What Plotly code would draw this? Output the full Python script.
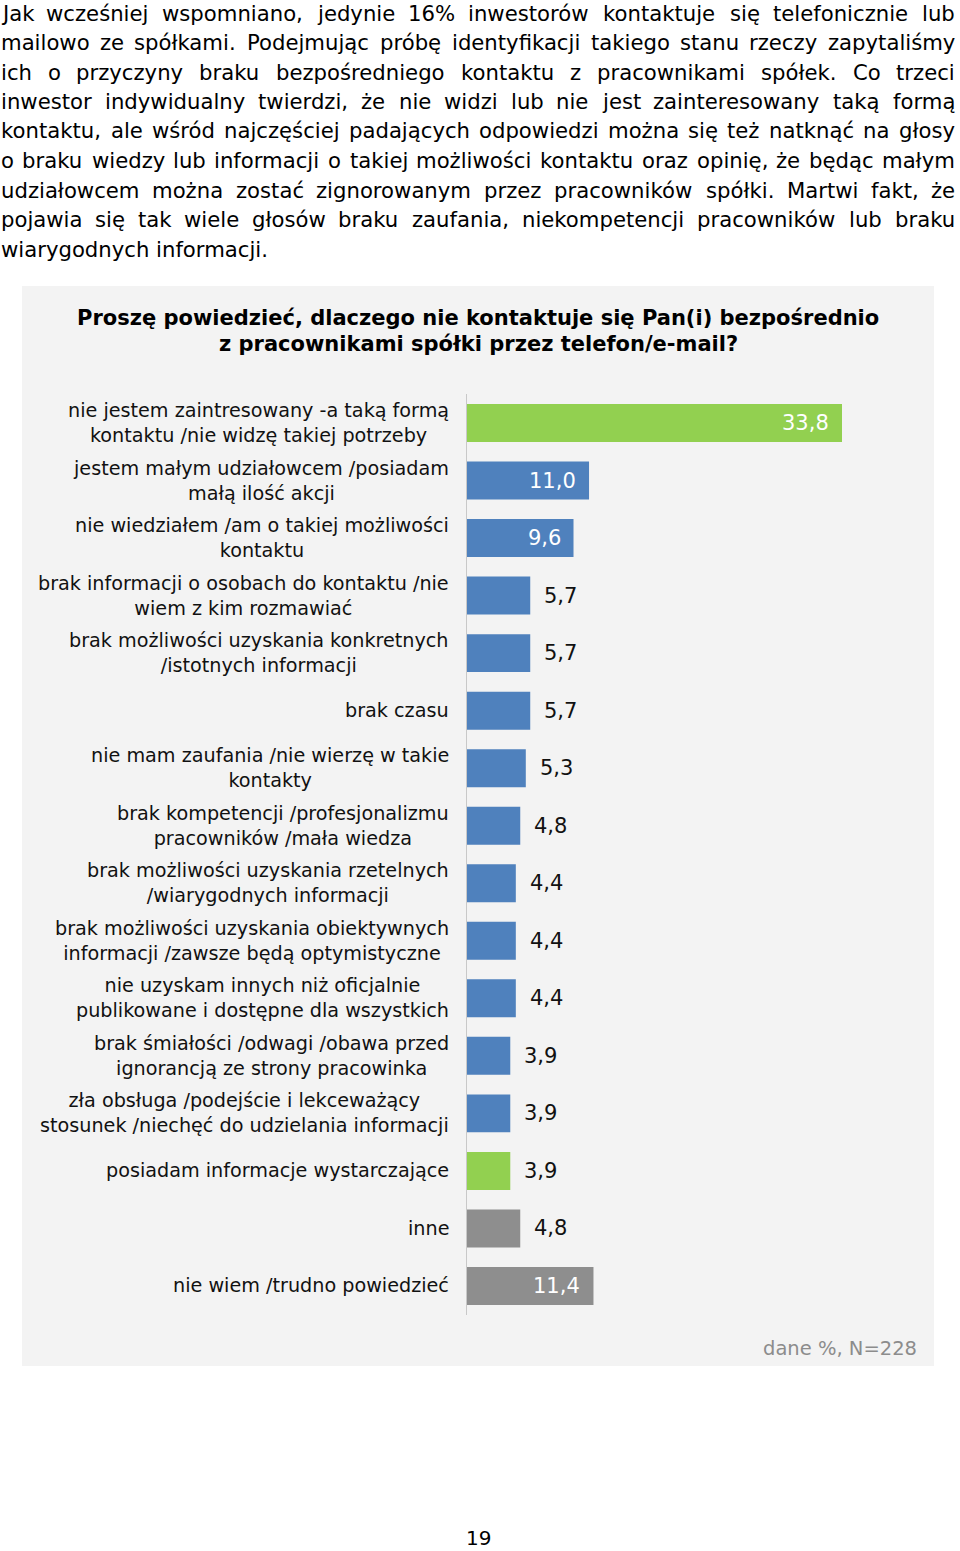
import plotly.graph_objects as go

W, H = 960, 1551

# ---------------- data ----------------
categories = [
    "nie jestem zaintresowany -a taką formą<br>kontaktu /nie widzę takiej potrzeby",
    "jestem małym udziałowcem /posiadam<br>małą ilość akcji",
    "nie wiedziałem /am o takiej możliwości<br>kontaktu",
    "brak informacji o osobach do kontaktu /nie<br>wiem z kim rozmawiać",
    "brak możliwości uzyskania konkretnych<br>/istotnych informacji",
    "brak czasu",
    "nie mam zaufania /nie wierzę w takie<br>kontakty",
    "brak kompetencji /profesjonalizmu<br>pracowników /mała wiedza",
    "brak możliwości uzyskania rzetelnych<br>/wiarygodnych informacji",
    "brak możliwości uzyskania obiektywnych<br>informacji /zawsze będą optymistyczne",
    "nie uzyskam innych niż oficjalnie<br>publikowane i dostępne dla wszystkich",
    "brak śmiałości /odwagi /obawa przed<br>ignorancją ze strony pracowinka",
    "zła obsługa /podejście i lekceważący<br>stosunek /niechęć do udzielania informacji",
    "posiadam informacje wystarczające",
    "inne",
    "nie wiem /trudno powiedzieć",
]
values = [33.8, 11.0, 9.6, 5.7, 5.7, 5.7, 5.3, 4.8, 4.4, 4.4, 4.4, 3.9, 3.9, 3.9, 4.8, 11.4]
groups = ["green", "blue", "blue", "blue", "blue", "blue", "blue", "blue", "blue",
          "blue", "blue", "blue", "blue", "green", "grey", "grey"]

title_lines = [
    "Proszę powiedzieć, dlaczego nie kontaktuje się Pan(i) bezpośrednio",
    "z pracownikami spółki przez telefon/e-mail?",
]
note_text = "dane %, N=228"
page_number = "19"

paragraph_lines = [
    "Jak wcześniej wspomniano, jedynie 16% inwestorów kontaktuje się telefonicznie lub",
    "mailowo ze spółkami. Podejmując próbę identyfikacji takiego stanu rzeczy zapytaliśmy",
    "ich o przyczyny braku bezpośredniego kontaktu z pracownikami spółek. Co trzeci",
    "inwestor indywidualny twierdzi, że nie widzi lub nie jest zainteresowany taką formą",
    "kontaktu, ale wśród najczęściej padających odpowiedzi można się też natknąć na głosy",
    "o braku wiedzy lub informacji o takiej możliwości kontaktu oraz opinię, że będąc małym",
    "udziałowcem można zostać zignorowanym przez pracowników spółki. Martwi fakt, że",
    "pojawia się tak wiele głosów braku zaufania, niekompetencji pracowników lub braku",
    "wiarygodnych informacji.",
]

# ---------------- styles ----------------
COLORS = {"green": "#92D050", "blue": "#4F81BD", "grey": "#8E8E8E"}
FONT = "DejaVu Sans, Verdana, sans-serif"
TEXT = "#111111"


def px(x):
    return x / W


def py(y):
    return 1 - y / H


# approximate DejaVu Sans advance widths (em) for justification
_WID = {" ": .318, "%": .950, ",": .318, ".": .318, "-": .361, "/": .337, "(": .390, ")": .390,
        "a": .613, "b": .635, "c": .550, "d": .635, "e": .615, "f": .352, "g": .635, "h": .634,
        "i": .278, "j": .278, "k": .579, "l": .278, "m": .974, "n": .634, "o": .612, "p": .635,
        "q": .635, "r": .411, "s": .521, "t": .392, "u": .634, "v": .592, "w": .818, "x": .592,
        "y": .592, "z": .525, "ą": .613, "ć": .550, "ę": .615, "ł": .300, "ń": .634, "ó": .612,
        "ś": .521, "ź": .525, "ż": .525, "C": .698, "J": .295, "M": .863, "P": .603}


def text_width(s, size):
    return sum(_WID.get(ch, .636) for ch in s) * size


# plot geometry (pixels)
AX_X0, AX_X1 = 467, 934
UNIT_PX = 375 / 33.8
Y_TOP, PITCH = 423, 57.53
n = len(categories)
y0 = Y_TOP - PITCH / 2
y1 = y0 + PITCH * n

fig = go.Figure()
fig.add_trace(go.Bar(
    x=values,
    y=categories,
    orientation="h",
    marker=dict(color=[COLORS[g] for g in groups], line=dict(width=0)),
    hoverinfo="skip",
    showlegend=False,
))

annotations = []

# category labels (centered multi-line, right-aligned block)
for c in categories:
    annotations.append(dict(
        x=px(451), xref="paper", xanchor="right",
        y=c, yref="y", yanchor="middle",
        text=c, align="center", showarrow=False,
        font=dict(family=FONT, size=19.2, color=TEXT),
    ))

# value labels
for c, v in zip(categories, values):
    inside = v >= 9
    annotations.append(dict(
        x=v, xref="x", y=c, yref="y",
        xanchor="right" if inside else "left",
        xshift=-11 if inside else 12,
        yanchor="middle",
        text=f"{v:.1f}".replace(".", ","),
        showarrow=False,
        font=dict(family=FONT, size=21, color="#FFFFFF" if inside else TEXT),
    ))

# title
for i, t in enumerate(title_lines):
    annotations.append(dict(
        x=px(478), xref="paper", xanchor="center",
        y=py(318 + 26 * i), yref="paper", yanchor="middle",
        text=f"<b>{t}</b>", showarrow=False,
        font=dict(family=FONT, size=21, color="#000000"),
    ))

# note
annotations.append(dict(
    x=px(919), xref="paper", xanchor="right",
    y=py(1348), yref="paper", yanchor="middle",
    text=note_text, showarrow=False,
    font=dict(family=FONT, size=19.5, color="#8C8C8C"),
))

# page number
annotations.append(dict(
    x=px(478), xref="paper", xanchor="center",
    y=py(1538), yref="paper", yanchor="middle",
    text=page_number, showarrow=False,
    font=dict(family=FONT, size=20, color="#000000"),
))

# justified paragraph
P_SIZE = 21.2
P_LEFT, P_RIGHT = 1, 955
for li, line in enumerate(paragraph_lines):
    yc = py(13 + 29.5 * li)
    words = line.split(" ")
    last = li == len(paragraph_lines) - 1
    if last or len(words) == 1:
        annotations.append(dict(
            x=px(P_LEFT), xref="paper", xanchor="left", y=yc, yref="paper",
            yanchor="middle", text=line, showarrow=False, borderpad=0, borderwidth=0,
            font=dict(family=FONT, size=P_SIZE, color="#000000")))
        continue
    widths = [text_width(w, P_SIZE) for w in words]
    gap = (P_RIGHT - P_LEFT - sum(widths)) / (len(words) - 1)
    xpos = P_LEFT
    for wi, (w, wd) in enumerate(zip(words, widths)):
        if wi == len(words) - 1:
            annotations.append(dict(
                x=px(P_RIGHT), xref="paper", xanchor="right", y=yc, yref="paper",
                yanchor="middle", text=w, showarrow=False, borderpad=0, borderwidth=0,
                font=dict(family=FONT, size=P_SIZE, color="#000000")))
        else:
            annotations.append(dict(
                x=px(xpos), xref="paper", xanchor="left", y=yc, yref="paper",
                yanchor="middle", text=w, showarrow=False, borderpad=0, borderwidth=0,
                font=dict(family=FONT, size=P_SIZE, color="#000000")))
        xpos += wd + gap

fig.update_layout(
    width=W, height=H,
    margin=dict(l=0, r=0, t=0, b=0),
    paper_bgcolor="#FFFFFF",
    plot_bgcolor="rgba(0,0,0,0)",
    bargap=0.34,
    annotations=annotations,
    shapes=[dict(
        type="rect", xref="paper", yref="paper",
        x0=px(22), x1=px(934), y0=py(1366), y1=py(286),
        fillcolor="#F3F3F3", line=dict(width=0), layer="below",
    )],
    xaxis=dict(
        domain=[px(AX_X0), px(AX_X1)],
        range=[0, (AX_X1 - AX_X0) / UNIT_PX],
        visible=False, fixedrange=True,
    ),
    yaxis=dict(
        domain=[py(y1), py(y0)],
        type="category",
        range=[n - 0.5, -0.5],
        showticklabels=False, ticks="",
        showgrid=False, zeroline=False,
        showline=True, linecolor="#C8C8C8", linewidth=1,
        fixedrange=True,
    ),
)

fig.write_html(
    "out.html",
    config={"displayModeBar": False},
    post_script="document.body.style.margin='0';document.body.style.overflow='hidden';",
)
